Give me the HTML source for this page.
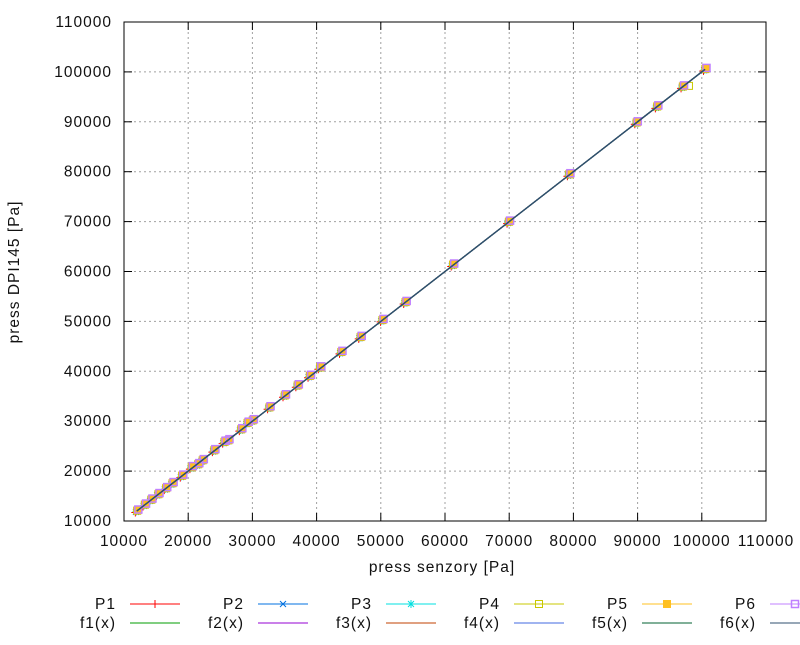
<!DOCTYPE html>
<html><head><meta charset="utf-8"><style>
html,body{margin:0;padding:0;background:#fff}
svg text{font-family:"Liberation Sans",sans-serif;font-size:15.5px;fill:#111;letter-spacing:1px}
</style></head><body>
<svg id="chart" width="800" height="640" viewBox="0 0 800 640" xmlns="http://www.w3.org/2000/svg"></svg>
<script>
const xTicks=[10000,20000,30000,40000,50000,60000,70000,80000,90000,100000,110000];
const yTicks=[10000,20000,30000,40000,50000,60000,70000,80000,90000,100000,110000];
const pressX=[12000,13200,14200,15300,16500,17500,19000,20500,21500,22200,24000,25600,26200,28200,29200,30000,32600,35000,37000,38900,40500,43800,46800,50200,53800,61200,69900,79300,89800,93000,97000,100500];
const pressY=[12000,13200,14200,15300,16500,17500,19000,20700,21300,22100,24100,25800,26100,28300,29600,30100,32700,35100,37100,39000,40700,43800,46800,50200,53800,61300,69900,79400,89800,93000,97000,100500];
const p4Extra=[[98000,97200]];
const seriesNames=["P1","P2","P3","P4","P5","P6"];
const fitNames=["f1(x)","f2(x)","f3(x)","f4(x)","f5(x)","f6(x)"];
const pColors=["#ff0000","#0070e0","#00e0e0","#c8c800","#ffc020","#c080ff"];
const fColors=["#009e00","#9400d3","#c04000","#4169e1","#006030","#2f4f6f"];
const fitRange=[12000,100500];

const svg=document.getElementById('chart');
const NS="http://www.w3.org/2000/svg";
const L=124,R=766,T=22,B=521;
const sx=v=>L+(v-10000)/100000*(R-L);
const sy=v=>B-(v-10000)/100000*(B-T);
function el(tag,attrs,parent){const e=document.createElementNS(NS,tag);for(const k in attrs)e.setAttribute(k,attrs[k]);(parent||svg).appendChild(e);return e;}

const grid=el('g',{});


xTicks.forEach(t=>{const x=sx(t);
  if(t>10000&&t<110000){const g=el('line',{x1:x,x2:x,y1:T,y2:B,stroke:'#a0a0a0','stroke-dasharray':'2,3','stroke-width':1},grid);}
  el('line',{x1:x,x2:x,y1:B,y2:B-8,stroke:'#000'});el('line',{x1:x,x2:x,y1:T,y2:T+8,stroke:'#000'});
  const tx=el('text',{x:x,y:546,'text-anchor':'middle'});tx.textContent=t;
  
});
yTicks.forEach(t=>{const y=sy(t);
  if(t>10000&&t<110000){const g=el('line',{x1:L,x2:R,y1:y,y2:y,stroke:'#a0a0a0','stroke-dasharray':'2,3','stroke-width':1},grid);}
  el('line',{x1:L,x2:L+8,y1:y,y2:y,stroke:'#000'});el('line',{x1:R,x2:R-8,y1:y,y2:y,stroke:'#000'});
  const tx=el('text',{x:112,y:y+5,'text-anchor':'end'});tx.textContent=t;
  
});
const frame=el('rect',{x:L,y:T,width:R-L,height:B-T,fill:'none',stroke:'#000','stroke-width':1});


function marker(i,x,y,g){
  const c=pColors[i];
  if(i===0){el('path',{d:`M${x-4},${y}h8M${x},${y-4}v8`,stroke:c},g);}
  else if(i===1){el('path',{d:`M${x-3},${y-3}l6,6M${x-3},${y+3}l6,-6`,stroke:c},g);}
  else if(i===2){el('path',{d:`M${x-3},${y-3}l6,6M${x-3},${y+3}l6,-6M${x-4},${y}h8M${x},${y-4}v8`,stroke:c},g);}
  else if(i===3){el('rect',{x:x-3.5,y:y-3.5,width:7,height:7,fill:'none',stroke:c},g);}
  else if(i===4){el('rect',{x:x-4,y:y-4,width:8,height:8,fill:c},g);}
  else {el('rect',{x:x-3.5,y:y-3.5,width:7,height:7,fill:'none',stroke:c,'stroke-width':1.5},g);}
}
for(let i=0;i<6;i++){
  const g=el('g',{});
  
  
  pressX.forEach((v,j)=>marker(i,sx(v)+(i-2.5)*0.6,sy(pressY[j])-(i-2.5)*0.6,g));
  if(i===3)p4Extra.forEach(p=>marker(3,sx(p[0]),sy(p[1]),g));
}
for(let i=0;i<6;i++){
  const ln=el('line',{x1:sx(fitRange[0]),y1:sy(fitRange[0]),x2:sx(fitRange[1]),y2:sy(fitRange[1]),stroke:fColors[i],'stroke-width':1.2});
  
  
}
const xt=el('text',{x:442,y:572,'text-anchor':'middle'});xt.textContent='press senzory [Pa]';

const yt=el('text',{x:19,y:272,'text-anchor':'middle',transform:'rotate(-90 19 272)'});yt.textContent='press DPI145 [Pa]';


for(let i=0;i<6;i++){
  const bx=i*128;
  const g=el('g',{});
  
  
  const t1=el('text',{x:116+bx,y:609,'text-anchor':'end'},g);t1.textContent=seriesNames[i];
  el('line',{x1:130+bx,x2:180+bx,y1:604,y2:604,stroke:pColors[i]},g);
  marker(i,155+bx,604,g);
  const g2=el('g',{});
  
  
  const t2=el('text',{x:116+bx,y:628,'text-anchor':'end'},g2);t2.textContent=fitNames[i];
  el('line',{x1:130+bx,x2:180+bx,y1:623,y2:623,stroke:fColors[i]},g2);
}
</script>
</body></html>
